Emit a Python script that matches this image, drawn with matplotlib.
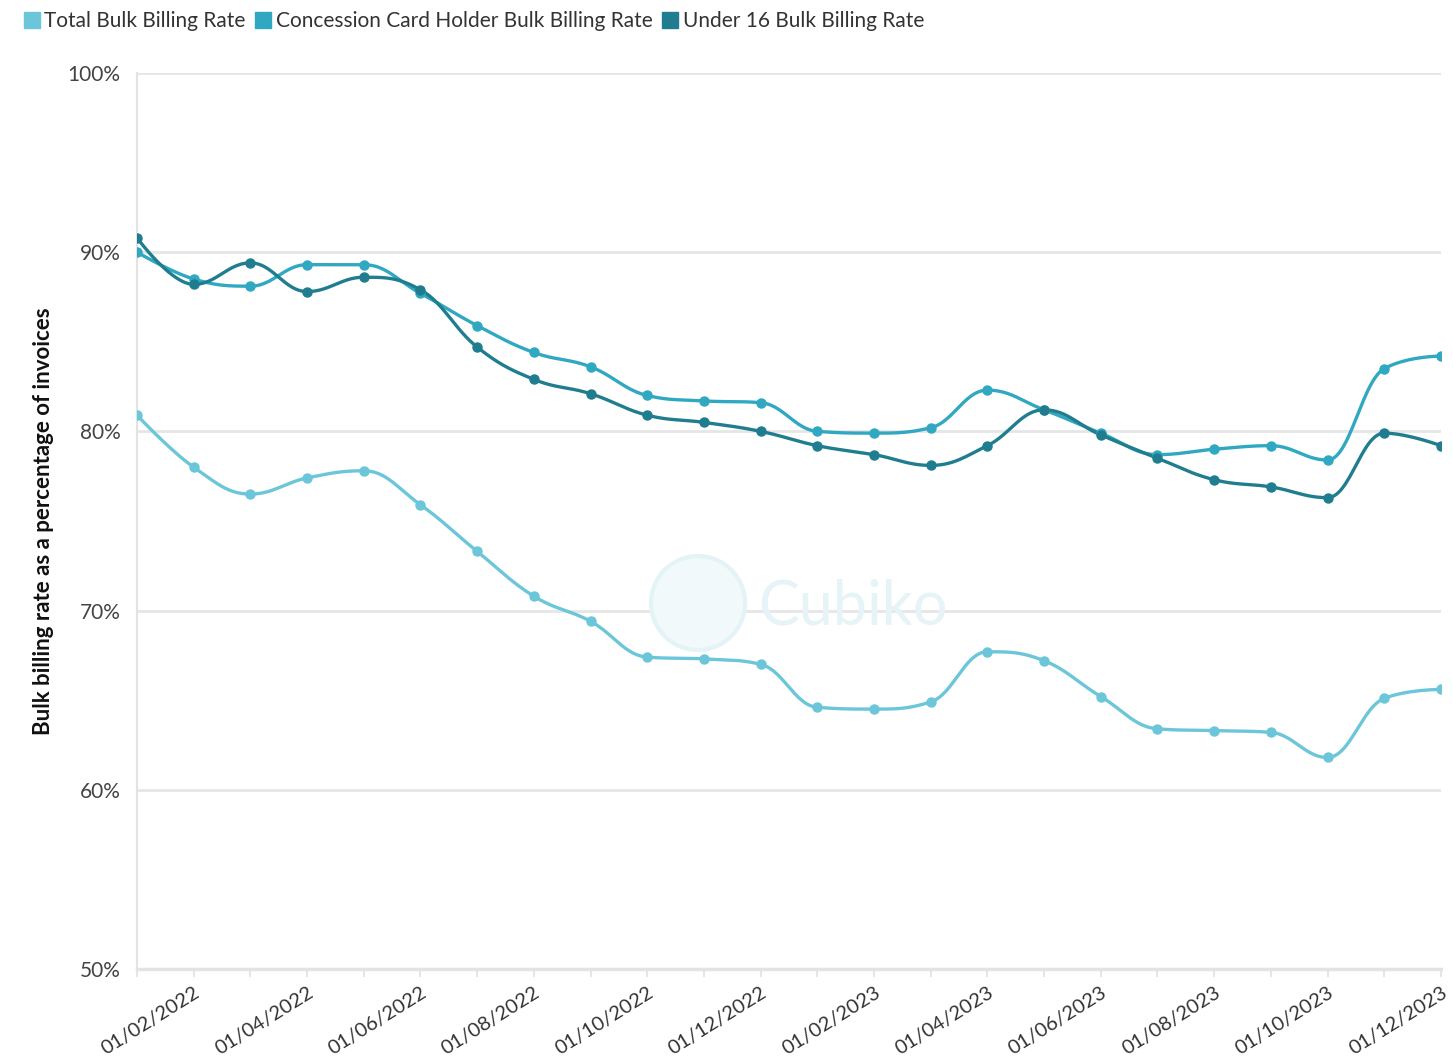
import numpy as np
import matplotlib
matplotlib.use('Agg')
import matplotlib.pyplot as plt
from matplotlib.lines import Line2D
from matplotlib.patches import Circle

plt.rcParams['font.family'] = ['Lato', 'DejaVu Sans']

# monthly points, 01/01/2022 .. 01/12/2023
months = ['01/%02d/%d' % (m, y) for y in (2022, 2023) for m in range(1, 13)]

total = [80.9, 78.0, 76.5, 77.4, 77.8, 75.9, 73.3, 70.8, 69.4, 67.4, 67.3, 67.0,
         64.6, 64.5, 64.9, 67.7, 67.2, 65.2, 63.4, 63.3, 63.2, 61.8, 65.1, 65.6]
concession = [90.0, 88.5, 88.1, 89.3, 89.3, 87.7, 85.9, 84.4, 83.6, 82.0, 81.7, 81.6,
              80.0, 79.9, 80.2, 82.3, 81.2, 79.9, 78.7, 79.0, 79.2, 78.4, 83.5, 84.2]
under16 = [90.8, 88.2, 89.4, 87.8, 88.6, 87.9, 84.7, 82.9, 82.1, 80.9, 80.5, 80.0,
           79.2, 78.7, 78.1, 79.2, 81.2, 79.8, 78.5, 77.3, 76.9, 76.3, 79.9, 79.2]

series_names = ['Total Bulk Billing Rate', 'Concession Card Holder Bulk Billing Rate',
                'Under 16 Bulk Billing Rate']
colors = ['#6cc6da', '#30a8c1', '#1f7d8f']
yticks = [50, 60, 70, 80, 90, 100]


def controls(x, y, i):
    # left/right control points around point i, no false extremes
    sm = 1.5
    py = y[i]
    lx = (sm * x[i] + x[i - 1]) / (sm + 1)
    ly = (sm * py + y[i - 1]) / (sm + 1)
    rx = (sm * x[i] + x[i + 1]) / (sm + 1)
    ry = (sm * py + y[i + 1]) / (sm + 1)
    if rx != lx:
        cor = ((ry - ly) * (rx - x[i])) / (rx - lx) + py - ry
        ly += cor
        ry += cor
    last, nxt = y[i - 1], y[i + 1]
    if ly > last and ly > py:
        ly = max(last, py)
        ry = 2 * py - ly
    elif ly < last and ly < py:
        ly = min(last, py)
        ry = 2 * py - ly
    if ry > nxt and ry > py:
        ry = max(nxt, py)
        ly = 2 * py - ry
    elif ry < nxt and ry < py:
        ry = min(nxt, py)
        ly = 2 * py - ry
    return (lx, ly), (rx, ry)


def spline(x, y, n=30):
    x = np.asarray(x, float)
    y = np.asarray(y, float)
    k = len(x)
    left = [None] * k
    right = [None] * k
    for i in range(k):
        if 0 < i < k - 1:
            left[i], right[i] = controls(x, y, i)
        else:
            left[i] = right[i] = (x[i], y[i])
    t = np.linspace(0, 1, n)
    a = (1 - t) ** 3
    b = 3 * (1 - t) ** 2 * t
    c = 3 * (1 - t) * t ** 2
    d = t ** 3
    xs, ys = [], []
    for i in range(k - 1):
        c1, c2 = right[i], left[i + 1]
        xs.append(a * x[i] + b * c1[0] + c * c2[0] + d * x[i + 1])
        ys.append(a * y[i] + b * c1[1] + c * c2[1] + d * y[i + 1])
    return np.concatenate(xs), np.concatenate(ys)


fig = plt.figure(figsize=(14.53, 10.57), dpi=100)
ax = fig.add_axes([0.0943, 0.0833, 0.8974, 0.8477])

xi = np.arange(len(months))
for vals, col in zip([total, concession, under16], colors):
    sx, sy = spline(xi, vals)
    ax.plot(sx, sy, color=col, lw=2.4, zorder=3, solid_capstyle='round')
    ax.plot(xi, vals, 'o', color=col, ms=6.5, zorder=4)

ax.set_xlim(0, len(months) - 1)
ax.set_ylim(50, 100)
ax.set_yticks(yticks)
ax.set_yticklabels(['%d%%' % v for v in yticks], fontsize=15, color='#444444')
ax.yaxis.grid(True, color='#e6e6e6', lw=2)
ax.set_axisbelow(True)
ax.tick_params(axis='y', length=0, pad=12)

ax.set_xticks(xi, minor=True)
ax.set_xticks(xi[1::2])
ax.set_xticklabels(months[1::2], rotation=32, ha='right', va='top',
                   rotation_mode='anchor', fontsize=14.5, color='#333333')
ax.tick_params(axis='x', which='both', length=6, color='#e0e0e0', width=1.2)
ax.tick_params(axis='x', which='major', pad=5)

for s in ['top', 'right']:
    ax.spines[s].set_visible(False)
ax.spines['bottom'].set_color('#e3e3e3')
ax.spines['bottom'].set_linewidth(2.5)
ax.spines['left'].set_color('#e3e3e3')
ax.spines['left'].set_linewidth(1.5)

ax.set_ylabel('Bulk billing rate as a percentage of invoices', fontsize=16,
              fontweight='bold', color='#111111')
ax.yaxis.set_label_coords(-0.064, 0.5)

# faint watermark
fig.add_artist(Circle((6.98, 10.57 - 6.03), 0.47, transform=fig.dpi_scale_trans,
                      facecolor='#f1f9fb', edgecolor='#e3f3f6', lw=3, zorder=1))
fig.text(758 / 1453, 1 - 607 / 1057, 'Cubiko', fontsize=44, color='#e6f4f7',
         va='center', ha='left', zorder=1)

handles = [Line2D([], [], marker='s', ls='', color=c, ms=12) for c in colors]
fig.legend(handles, series_names, loc='upper left', bbox_to_anchor=(0.004, 1.007),
           ncol=3, frameon=False, fontsize=15, handlelength=0.7,
           handletextpad=0.25, columnspacing=0.5, labelcolor='#333333')

fig.savefig('out.png', dpi=100, facecolor='white')
